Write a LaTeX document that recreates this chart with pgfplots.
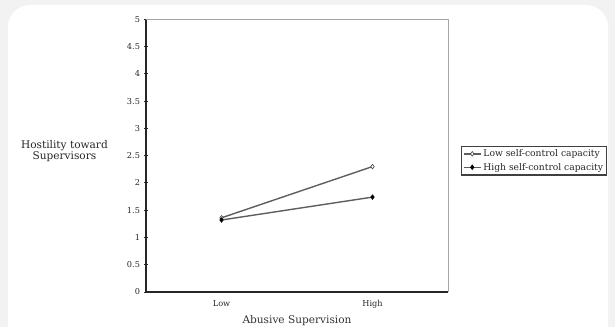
\documentclass[border=0pt]{standalone}
\usepackage{fontspec}
\setmainfont{DejaVu Serif}
\usepackage{pgfplots}
\pgfplotsset{compat=1.18}
\definecolor{bgout}{HTML}{F2F2F2}
\definecolor{linegray}{HTML}{5E5E5E}
\begin{document}
\begin{tikzpicture}[x=1bp,y=1bp]
\useasboundingbox (0,0) rectangle (615,327);
\fill[bgout] (0,0) rectangle (615,327);
\fill[white,rounded corners=22bp] (8,-40) rectangle (608,322);
\begin{axis}[
  at={(146bp,35bp)}, anchor=south west,
  width=302bp, height=272.7bp, scale only axis,
  xmin=0, xmax=2, ymin=0, ymax=5,
  axis x line*=bottom, axis y line*=left,
  axis line style={black!85, line width=1.3pt},
  x axis line style={-}, y axis line style={-},
  ytick={0,0.5,...,5},
  yticklabels={0,0.5,1,1.5,2,2.5,3,3.5,4,4.5,5},
  tick align=center, major tick length=4bp,
  tick style={black!85, line width=0.9pt},
  xtick={0.5,1.5}, xticklabels={Low,High},
  x tick style={draw=none},
  extra x ticks={1,2}, extra x tick labels={},
  extra x tick style={tick style={draw=black!85, line width=0.9pt}, major tick length=4bp},
  ticklabel style={font=\fontsize{8.2}{9.5}\selectfont, text=black!85},
  yticklabel style={xshift=-0.5bp},
  xticklabel style={yshift=-3bp},
  /pgf/number format/assume math mode=true,
  xlabel={Abusive Supervision},
  xlabel style={font=\fontsize{10.6}{12}\selectfont, text=black!80, yshift=4bp},
  ylabel={Hostility toward\\Supervisors},
  ylabel style={at={(axis description cs:-0.27,0.517)}, rotate=-90, anchor=center, align=center,
    font=\fontsize{10.6}{11.5}\selectfont, text=black!85},
  legend style={at={(axis description cs:1.043,0.537)}, anchor=north west,
    draw=black!75, line width=1.1pt, font=\fontsize{9.2}{10.5}\selectfont, text=black!85,
    row sep=1bp, inner xsep=1.5bp, inner ysep=1.5bp},
  legend cell align=left,
  legend image code/.code={\draw[#1] (0bp,0bp) -- (17bp,0bp); \draw[#1, mark repeat=2, mark phase=2] plot coordinates {(0bp,0bp) (8.5bp,0bp) (17bp,0bp)};},
  clip=false,
]
\addplot[linegray, line width=1.4pt, mark=diamond*, mark size=2.3bp, mark options={fill=white, draw=black!75, line width=0.6pt}]
  coordinates {(0.5,1.36) (1.5,2.30)};
\addlegendentry{Low self-control capacity}
\addplot[linegray, line width=1.4pt, mark=diamond*, mark size=2.3bp, mark options={fill=black, draw=black, line width=0.6pt}]
  coordinates {(0.5,1.32) (1.5,1.74)};
\addlegendentry{High self-control capacity}
\draw[black!35, line width=0.7pt] (rel axis cs:0,1) -- (rel axis cs:1,1) -- (rel axis cs:1,0);
\end{axis}
\end{tikzpicture}
\end{document}
